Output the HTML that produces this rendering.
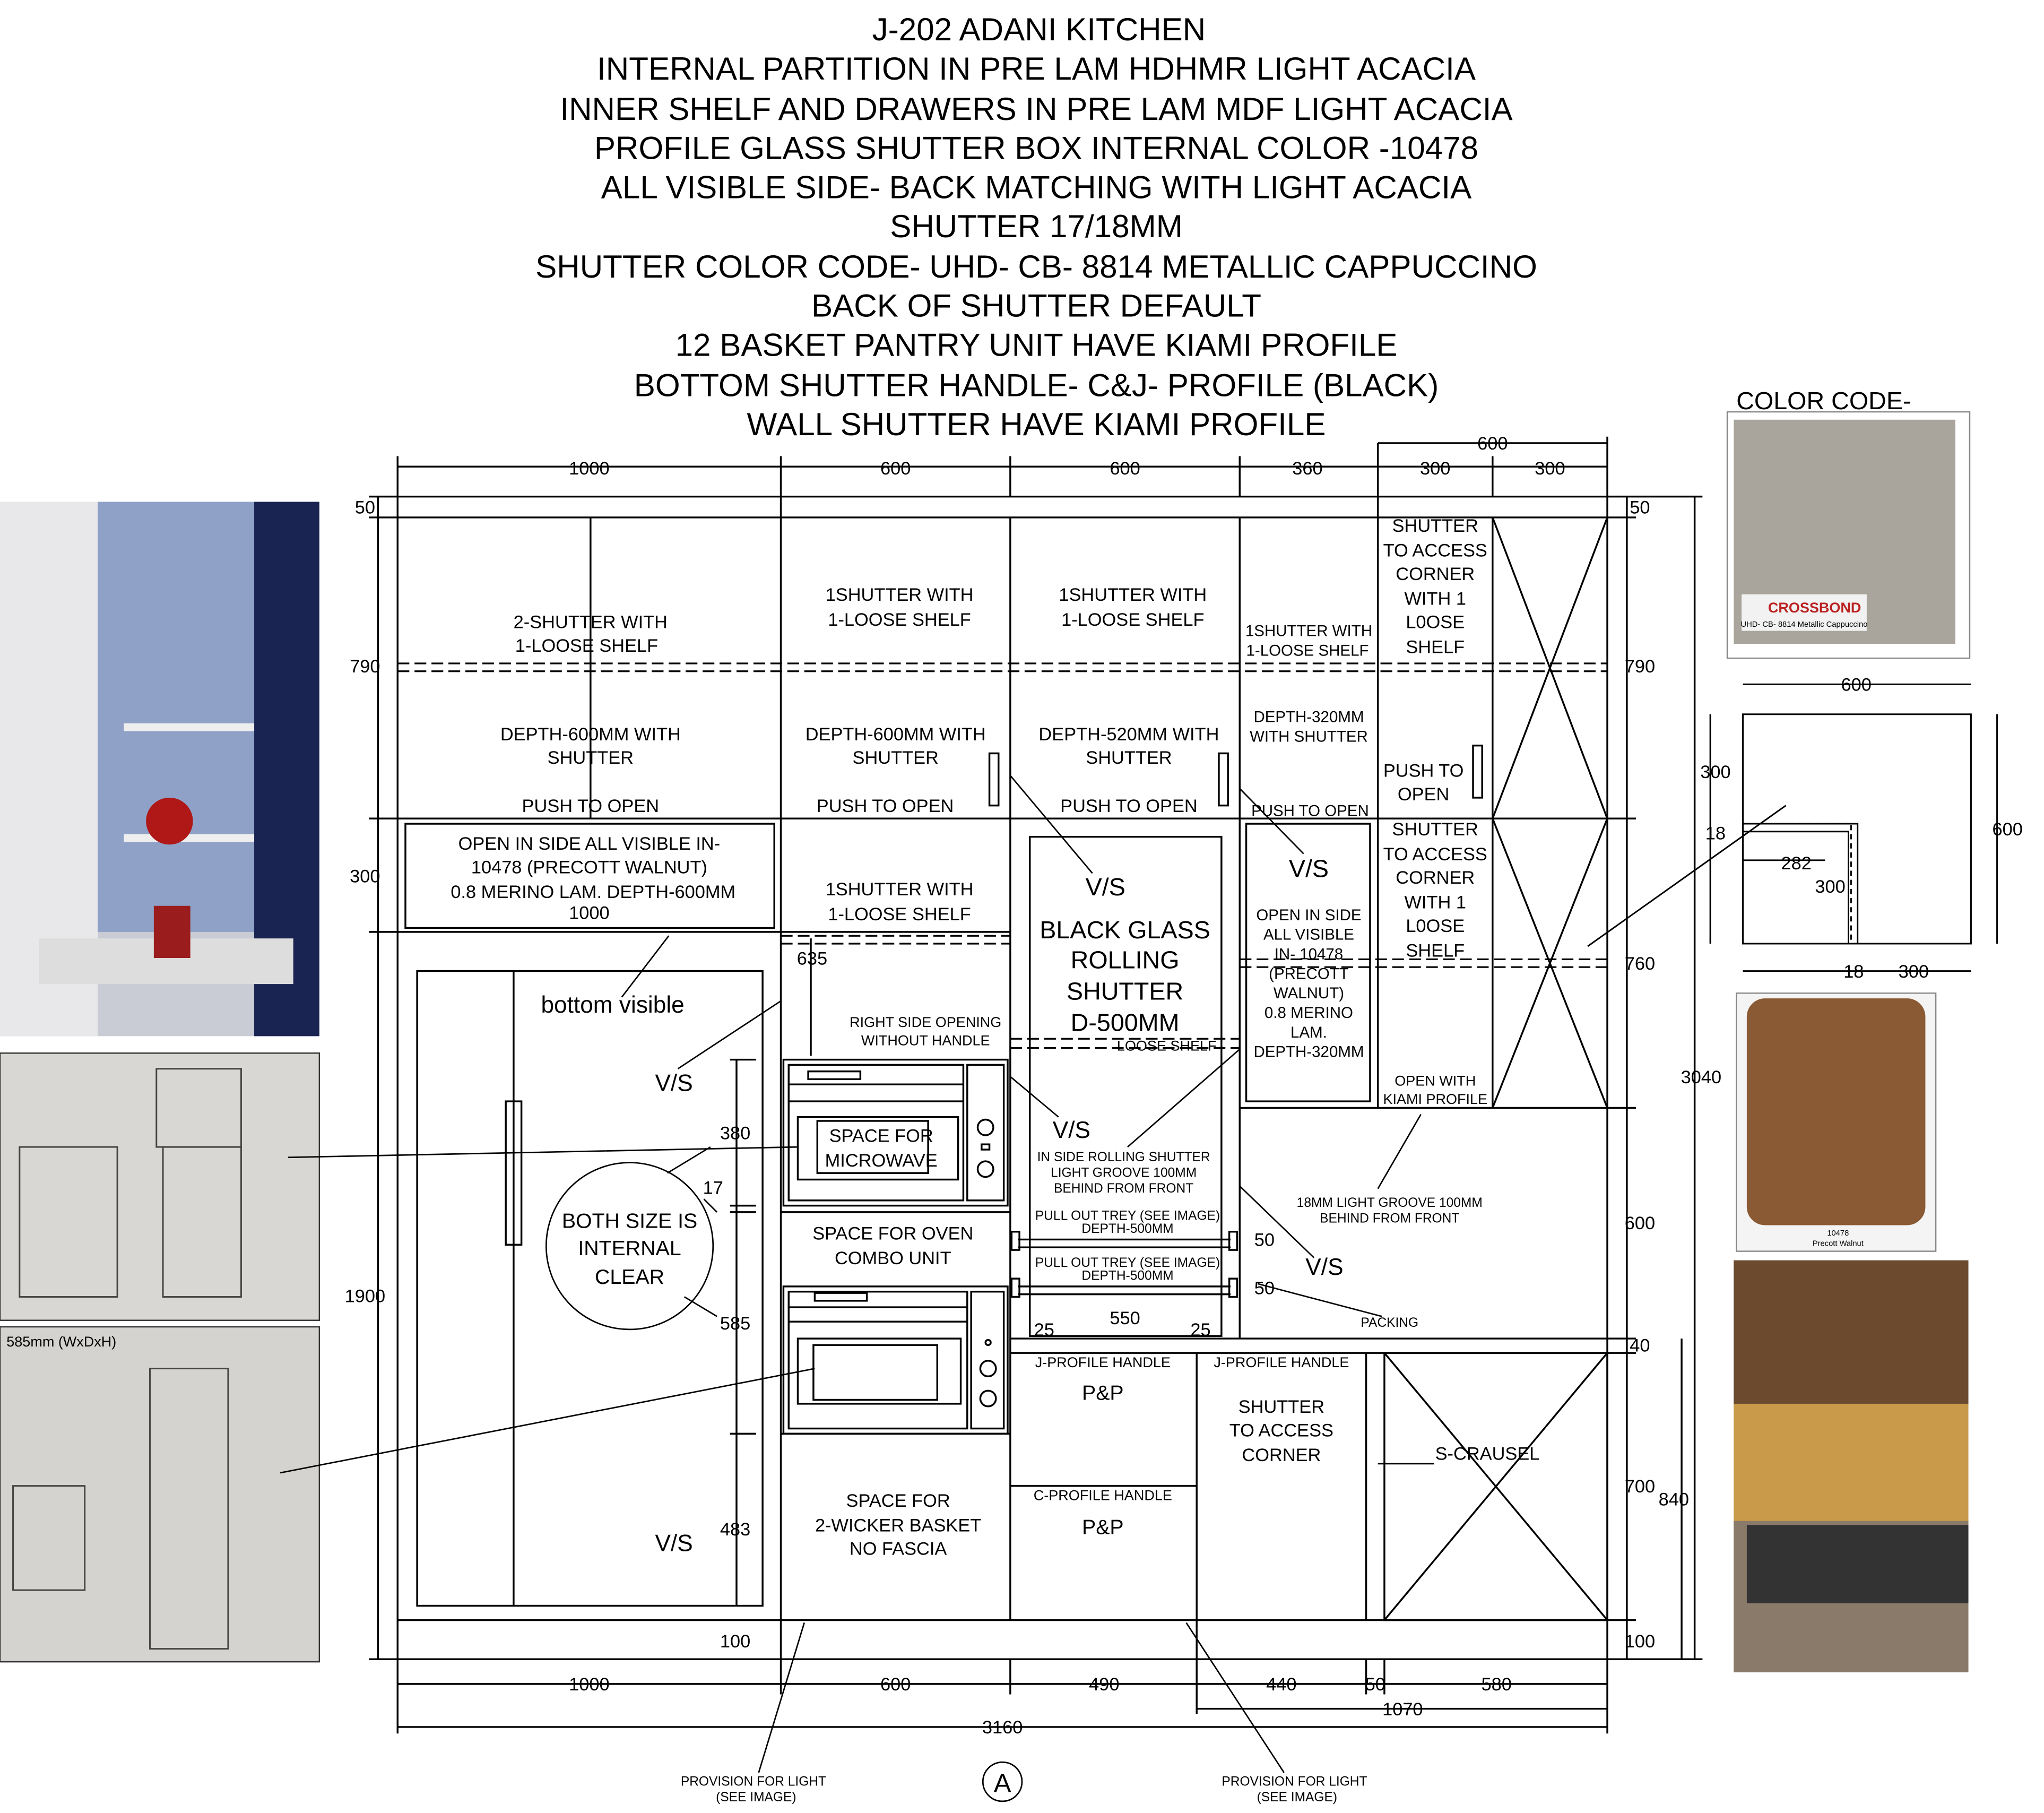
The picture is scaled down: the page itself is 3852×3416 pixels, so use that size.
<!DOCTYPE html>
<html><head><meta charset="utf-8"><style>
html,body{margin:0;padding:0;background:#fff}
svg{display:block}
text{font-family:"Liberation Sans",sans-serif;fill:#000}
</style></head><body>
<svg width="3852" height="3416" viewBox="0 0 1568 1391" preserveAspectRatio="none" xmlns="http://www.w3.org/2000/svg">
<rect width="1568" height="1391" fill="#fff"/>
<g font-size="24.5" text-anchor="middle">
<text x="797" y="31">J-202 ADANI KITCHEN</text>
<text x="795" y="61">INTERNAL PARTITION IN PRE LAM HDHMR LIGHT ACACIA</text>
<text x="795" y="92">INNER SHELF AND DRAWERS IN PRE LAM MDF LIGHT ACACIA</text>
<text x="795" y="122">PROFILE GLASS SHUTTER BOX INTERNAL COLOR -10478</text>
<text x="795" y="152">ALL VISIBLE SIDE- BACK MATCHING WITH LIGHT ACACIA</text>
<text x="795" y="182">SHUTTER 17/18MM</text>
<text x="795" y="213">SHUTTER COLOR CODE- UHD- CB- 8814 METALLIC CAPPUCCINO</text>
<text x="795" y="243">BACK OF SHUTTER DEFAULT</text>
<text x="795" y="273">12 BASKET PANTRY UNIT HAVE KIAMI PROFILE</text>
<text x="795" y="304">BOTTOM SHUTTER HANDLE- C&amp;J- PROFILE (BLACK)</text>
<text x="795" y="334">WALL SHUTTER HAVE KIAMI PROFILE</text>
</g>
<text x="1332" y="314" font-size="19">COLOR CODE-</text>

<!-- photos left -->
<rect x="0" y="385" width="245" height="410" fill="#c9ccd4"/>
<rect x="0" y="385" width="75" height="410" fill="#e8e8ea"/>
<rect x="75" y="385" width="120" height="330" fill="#8fa1c7"/>
<rect x="195" y="385" width="50" height="410" fill="#1a2452"/>
<rect x="95" y="555" width="100" height="6" fill="#eee"/>
<rect x="95" y="640" width="100" height="6" fill="#eee"/>
<rect x="30" y="720" width="195" height="35" fill="#ddd"/>
<circle cx="130" cy="630" r="18" fill="#b01818"/>
<rect x="118" y="695" width="28" height="40" fill="#9b1c1c"/>
<rect x="0" y="808" width="245" height="205" fill="#d8d7d3" stroke="#333"/>
<rect x="0" y="1018" width="245" height="257" fill="#d5d3cf" stroke="#333"/>
<g stroke="#444" fill="none" stroke-width="1.2">
<rect x="15" y="880" width="75" height="115"/><rect x="120" y="820" width="65" height="60"/><rect x="125" y="880" width="60" height="115"/>
<rect x="10" y="1140" width="55" height="80"/><rect x="115" y="1050" width="60" height="215"/>
</g>
<text x="5" y="1033" font-size="11" fill="#333">585mm (WxDxH)</text>

<!-- right images -->
<rect x="1325" y="316" width="186" height="189" fill="#fff" stroke="#888"/>
<rect x="1330" y="322" width="170" height="172" fill="#a9a59c"/>
<rect x="1336" y="456" width="96" height="28" fill="#f2f2f2"/>
<text x="1392" y="470" font-size="11" font-weight="bold" text-anchor="middle" style="fill:#b22">CROSSBOND</text>
<text x="1384" y="481" font-size="6" text-anchor="middle">UHD- CB- 8814 Metallic Cappuccino</text>
<rect x="1332" y="762" width="153" height="198" fill="#f4f4f4" stroke="#888"/>
<rect x="1340" y="766" width="137" height="174" rx="14" fill="#8a5a34"/>
<text x="1410" y="948" font-size="6" text-anchor="middle">10478</text>
<text x="1410" y="956" font-size="6" text-anchor="middle">Precott Walnut</text>
<rect x="1330" y="967" width="180" height="316" fill="#3a3632"/>
<rect x="1330" y="967" width="180" height="110" fill="#6b4a2e"/>
<rect x="1330" y="1077" width="180" height="90" fill="#c99a4a"/>
<rect x="1330" y="1167" width="180" height="116" fill="#8a7a6a"/>
<rect x="1340" y="1170" width="170" height="60" fill="#333"/>

<!-- corner plan -->
<g stroke="#000" fill="none" stroke-width="1.2">
<rect x="1337" y="548" width="175" height="176"/>
<path d="M1337 632 H1425 V724 M1337 638 H1418 V724"/>
<path d="M1312 548 V724 M1532 548 V724 M1337 525 H1512 M1337 745 H1512 M1337 660 H1400"/>
<path d="M1337 632 H1420 V724" stroke-dasharray="4 3"/>
<line x1="1218" y1="726" x2="1370" y2="618"/>
</g>
<g font-size="14" text-anchor="middle"><text x="1424" y="530">600</text><text x="1316" y="597">300</text><text x="1540" y="641">600</text><text x="1316" y="644">18</text><text x="1378" y="667">282</text><text x="1404" y="685">300</text><text x="1422" y="750">18</text><text x="1468" y="750">300</text></g>

<!-- main frame -->
<g stroke="#000" fill="none" stroke-width="1.4">
<rect x="305" y="381" width="928" height="892"/>
<line x1="305" y1="397" x2="1233" y2="397"/>
<line x1="305" y1="628" x2="1233" y2="628"/>
<line x1="305" y1="715" x2="775" y2="715"/>
<line x1="599" y1="381" x2="599" y2="1273"/>
<line x1="775" y1="397" x2="775" y2="1243"/>
<line x1="951" y1="397" x2="951" y2="1027"/>
<line x1="1057" y1="340" x2="1057" y2="850"/>
<line x1="1145" y1="397" x2="1145" y2="850"/>
<line x1="453" y1="397" x2="453" y2="628"/>
<line x1="951" y1="850" x2="1233" y2="850"/>
<line x1="775" y1="1027" x2="1233" y2="1027"/>
<line x1="775" y1="1038" x2="1233" y2="1038"/>
<line x1="305" y1="1243" x2="1233" y2="1243"/>
<line x1="918" y1="1038" x2="918" y2="1243"/>
<line x1="1048" y1="1038" x2="1048" y2="1243"/>
<line x1="775" y1="1140" x2="918" y2="1140"/>
<rect x="1062" y="1038" width="171" height="205"/>
<path d="M1062 1038 L1233 1243 M1233 1038 L1062 1243"/>
<path d="M1145 397 L1233 628 M1233 397 L1145 628 M1145 628 L1233 850 M1233 628 L1145 850"/>
<rect x="311" y="632" width="283" height="80"/>
<rect x="320" y="745" width="265" height="487"/>
<rect x="388" y="845" width="12" height="110"/>
<line x1="394" y1="745" x2="394" y2="1232"/>
<rect x="790" y="642" width="147" height="383"/>
<rect x="956" y="632" width="95" height="213"/>
<rect x="759" y="578" width="7" height="40"/><rect x="935" y="578" width="7" height="40"/><rect x="1130" y="572" width="7" height="40"/>
<!-- microwave -->
<rect x="601" y="813" width="172" height="112"/><rect x="605" y="817" width="134" height="104"/><rect x="742" y="817" width="28" height="104"/>
<rect x="612" y="857" width="123" height="48"/><rect x="627" y="860" width="85" height="40"/>
<rect x="620" y="822" width="40" height="6"/><path d="M605 832 H739 M605 845 H739"/>
<circle cx="756" cy="865" r="6"/><circle cx="756" cy="897" r="6"/><rect x="753" y="878" width="6" height="4"/>
<line x1="599" y1="930" x2="775" y2="930"/>
<!-- oven -->
<rect x="601" y="987" width="172" height="113"/><rect x="605" y="991" width="137" height="105"/><rect x="745" y="991" width="25" height="105"/>
<rect x="612" y="1027" width="125" height="50"/><rect x="624" y="1032" width="95" height="42"/>
<rect x="625" y="992" width="40" height="6"/><path d="M605 1003 H742 M605 1014 H742"/>
<circle cx="758" cy="1050" r="6"/><circle cx="758" cy="1073" r="6"/><circle cx="758" cy="1030" r="2"/>
<line x1="599" y1="1100" x2="775" y2="1100"/>
<!-- trays -->
<path d="M781 951 H944 M781 957 H944 M781 987 H944 M781 993 H944"/>
<rect x="776" y="945" width="6" height="14"/><rect x="943" y="945" width="6" height="14"/>
<rect x="776" y="981" width="6" height="14"/><rect x="943" y="981" width="6" height="14"/>
<!-- dimension lines -->
<path d="M305 358 H1233 M1057 340 H1233 M305 1292 H1233 M918 1311 H1233 M305 1325 H1233"/>
<path d="M290 381 V1273 M1248 381 V1273 M1300 381 V1273 M1290 1027 V1273"/>
<path d="M305 350 V381 M599 350 V381 M775 350 V381 M951 350 V381 M1145 350 V381 M1233 335 V381"/>
<path d="M305 1273 V1330 M599 1273 V1300 M775 1273 V1300 M918 1243 V1315 M1048 1273 V1300 M1062 1273 V1300 M1233 1273 V1330"/>
<path d="M283 381 H305 M283 397 H305 M283 628 H305 M283 715 H305 M283 1273 H305 M1233 381 H1306 M1233 397 H1255 M1233 628 H1255 M1233 850 H1255 M1233 1027 H1255 M1233 1038 H1255 M1233 1243 H1255 M1233 1273 H1306"/>
<path d="M565 813 V1232 M560 1100 H580 M560 925 H580 M560 930 H580 M560 813 H580"/>
<path d="M622 720 V810"/>
</g>
<g stroke="#000" stroke-width="1.3" stroke-dasharray="9 4" fill="none">
<path d="M305 509 H1233 M305 515 H1233 M599 718 H775 M599 724 H775 M775 797 H951 M775 804 H951 M951 736 H1233 M951 742 H1233"/>
</g>
<!-- leader lines -->
<g stroke="#000" stroke-width="1.1" fill="none">
<path d="M513 718 L477 765 M599 768 L520 820 M221 888 L612 880 M215 1130 L625 1050 M545 880 L512 900 M540 920 L550 930 M550 1010 L525 995 M775 595 L838 670 M951 605 L1000 655 M775 826 L812 857 M951 805 L865 880 M951 910 L1008 965 M1090 855 L1057 912 M965 985 L1060 1010 M1057 1123 L1100 1123 M617 1245 L582 1360 M910 1245 L985 1360"/>
<circle cx="483" cy="956" r="64"/>
<circle cx="769" cy="1367" r="15"/>
</g>
<!-- text -->
<g font-size="14" text-anchor="middle">
<text x="452" y="364">1000</text><text x="687" y="364">600</text><text x="863" y="364">600</text><text x="1003" y="364">360</text><text x="1101" y="364">300</text><text x="1189" y="364">300</text><text x="1145" y="345">600</text>
<text x="280" y="394">50</text><text x="280" y="516">790</text><text x="280" y="677">300</text><text x="280" y="999">1900</text>
<text x="1258" y="394">50</text><text x="1258" y="516">790</text><text x="1258" y="744">760</text><text x="1258" y="943">600</text><text x="1258" y="1037">40</text><text x="1258" y="1145">700</text><text x="1258" y="1264">100</text><text x="1305" y="831">3040</text><text x="1284" y="1155">840</text>
<text x="452" y="1297">1000</text><text x="687" y="1297">600</text><text x="847" y="1297">490</text><text x="983" y="1297">440</text><text x="1055" y="1297">50</text><text x="1148" y="1297">580</text><text x="1076" y="1316">1070</text><text x="769" y="1330">3160</text>
<text x="452" y="705">1000</text><text x="623" y="740">635</text><text x="564" y="874">380</text><text x="547" y="916">17</text><text x="564" y="1020">585</text><text x="564" y="1178">483</text><text x="564" y="1264">100</text>
<text x="863" y="1016">550</text><text x="801" y="1025">25</text><text x="921" y="1025">25</text><text x="970" y="956">50</text><text x="970" y="993">50</text>

<text x="453" y="482">2-SHUTTER WITH</text><text x="450" y="500">1-LOOSE SHELF</text>
<text x="690" y="461">1SHUTTER WITH</text><text x="690" y="480">1-LOOSE SHELF</text>
<text x="869" y="461">1SHUTTER WITH</text><text x="869" y="480">1-LOOSE SHELF</text>
<text x="1004" y="488" font-size="12">1SHUTTER WITH</text><text x="1003" y="503" font-size="12">1-LOOSE SHELF</text>
<text x="1101" y="408">SHUTTER</text><text x="1101" y="427">TO ACCESS</text><text x="1101" y="445">CORNER</text><text x="1101" y="464">WITH 1</text><text x="1101" y="482">L0OSE</text><text x="1101" y="501">SHELF</text>
<text x="453" y="568">DEPTH-600MM WITH</text><text x="453" y="586">SHUTTER</text><text x="453" y="623">PUSH TO OPEN</text>
<text x="687" y="568">DEPTH-600MM WITH</text><text x="687" y="586">SHUTTER</text><text x="679" y="623">PUSH TO OPEN</text>
<text x="866" y="568">DEPTH-520MM WITH</text><text x="866" y="586">SHUTTER</text><text x="866" y="623">PUSH TO OPEN</text>
<text x="1004" y="554" font-size="12">DEPTH-320MM</text><text x="1004" y="569" font-size="12">WITH SHUTTER</text><text x="1005" y="626" font-size="12">PUSH TO OPEN</text>
<text x="1092" y="596">PUSH TO</text><text x="1092" y="614">OPEN</text>
<text x="1101" y="641">SHUTTER</text><text x="1101" y="660">TO ACCESS</text><text x="1101" y="678">CORNER</text><text x="1101" y="697">WITH 1</text><text x="1101" y="715">L0OSE</text><text x="1101" y="734">SHELF</text>
<text x="452" y="652">OPEN IN SIDE ALL VISIBLE IN-</text><text x="452" y="670">10478 (PRECOTT WALNUT)</text><text x="455" y="689">0.8 MERINO LAM. DEPTH-600MM</text>
<text x="690" y="687">1SHUTTER WITH</text><text x="690" y="706">1-LOOSE SHELF</text>
<text x="710" y="788" font-size="11">RIGHT SIDE OPENING</text><text x="710" y="802" font-size="11">WITHOUT HANDLE</text>
<text x="895" y="806" font-size="11">LOOSE SHELF</text>
<text x="848" y="687" font-size="19">V/S</text>
<text x="863" y="720" font-size="19">BLACK GLASS</text><text x="863" y="743" font-size="19">ROLLING</text><text x="863" y="767" font-size="19">SHUTTER</text><text x="863" y="791" font-size="19">D-500MM</text>
<text x="1004" y="673" font-size="19">V/S</text>
<g font-size="12"><text x="1004" y="706">OPEN IN SIDE</text><text x="1004" y="721">ALL VISIBLE</text><text x="1004" y="736">IN- 10478</text><text x="1004" y="751">(PRECOTT</text><text x="1004" y="766">WALNUT)</text><text x="1004" y="781">0.8 MERINO</text><text x="1004" y="796">LAM.</text><text x="1004" y="811">DEPTH-320MM</text></g>
<text x="470" y="777" font-size="18">bottom visible</text>
<text x="517" y="837" font-size="18">V/S</text><text x="822" y="873" font-size="18">V/S</text><text x="1016" y="978" font-size="18">V/S</text><text x="517" y="1190" font-size="18">V/S</text>
<text x="676" y="876">SPACE FOR</text><text x="676" y="895">MICROWAVE</text>
<text x="685" y="951">SPACE FOR OVEN</text><text x="685" y="970">COMBO UNIT</text>
<text x="483" y="942" font-size="16">BOTH SIZE IS</text><text x="483" y="963" font-size="16">INTERNAL</text><text x="483" y="985" font-size="16">CLEAR</text>
<g font-size="10"><text x="862" y="891">IN SIDE ROLLING SHUTTER</text><text x="862" y="903">LIGHT GROOVE 100MM</text><text x="862" y="915">BEHIND FROM FRONT</text>
<text x="865" y="936">PULL OUT TREY (SEE IMAGE)</text><text x="865" y="946">DEPTH-500MM</text><text x="865" y="972">PULL OUT TREY (SEE IMAGE)</text><text x="865" y="982">DEPTH-500MM</text>
<text x="1066" y="926">18MM LIGHT GROOVE 100MM</text><text x="1066" y="938">BEHIND FROM FRONT</text><text x="1066" y="1018">PACKING</text>
<text x="578" y="1370">PROVISION FOR LIGHT</text><text x="580" y="1382">(SEE IMAGE)</text><text x="993" y="1370">PROVISION FOR LIGHT</text><text x="995" y="1382">(SEE IMAGE)</text></g>
<text x="1101" y="833" font-size="11">OPEN WITH</text><text x="1101" y="847" font-size="11">KIAMI PROFILE</text>
<text x="846" y="1049" font-size="11">J-PROFILE HANDLE</text><text x="983" y="1049" font-size="11">J-PROFILE HANDLE</text>
<text x="846" y="1074" font-size="16">P&amp;P</text><text x="846" y="1151" font-size="11">C-PROFILE HANDLE</text><text x="846" y="1177" font-size="16">P&amp;P</text>
<text x="983" y="1084">SHUTTER</text><text x="983" y="1102">TO ACCESS</text><text x="983" y="1121">CORNER</text>
<text x="1141" y="1120">S-CRAUSEL</text>
<text x="689" y="1156">SPACE FOR</text><text x="689" y="1175">2-WICKER BASKET</text><text x="689" y="1193">NO FASCIA</text>
<text x="769" y="1375" font-size="20">A</text>
</g>
</svg>
</body></html>
